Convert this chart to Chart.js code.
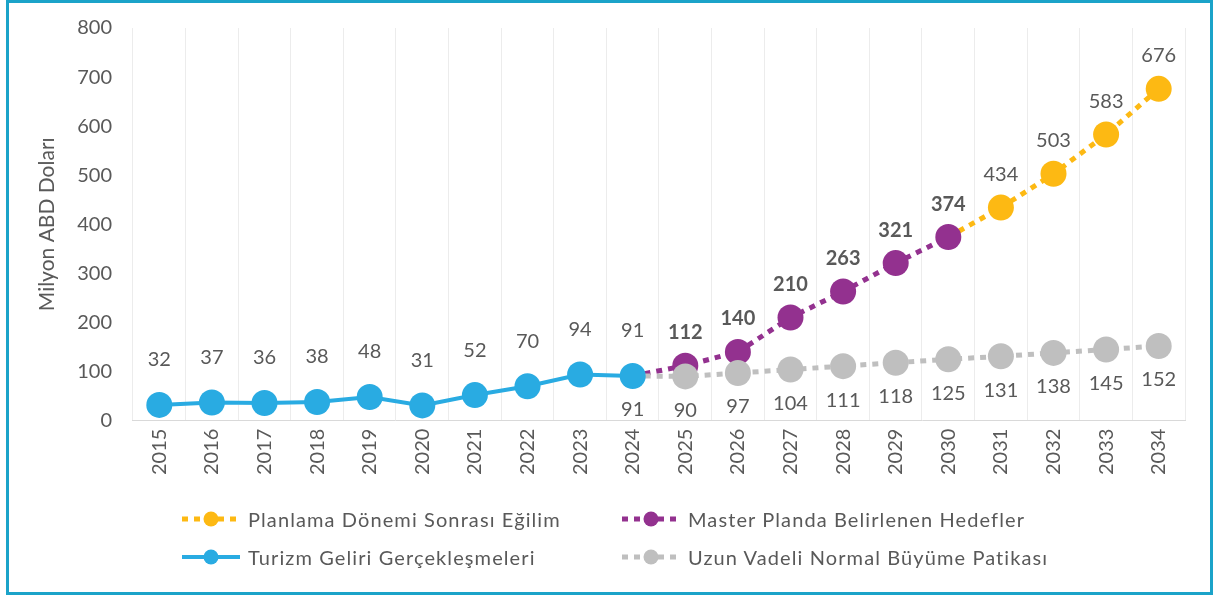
<!DOCTYPE html>
<html>
<head>
<meta charset="utf-8">
<script src="https://cdn.jsdelivr.net/npm/chart.js@4"></script>
<style>
  html, body { margin: 0; padding: 0; background: #fff; }
  body { width: 1216px; height: 595px; position: relative; overflow: hidden; font-family: Lato, "Noto Sans", sans-serif; }
  .frame { position: absolute; left: 6px; top: 0px; width: 1201px; height: 589px; border: 3px solid #1ba3c9; }
  .plot { position: absolute; left: 0; top: 0; width: 1201px; height: 480px; }
  .legend { position: absolute; left: 0; top: 0; width: 1201px; height: 589px; pointer-events: none; }
  .legend-item { position: absolute; display: flex; align-items: center; color: #595959; font-size: 20px; letter-spacing: 1.1px; white-space: nowrap; }
  .legend-item canvas { margin-right: 6px; }
</style>
</head>
<body>
<div class="frame">
  <div class="plot"><canvas id="chart"></canvas></div>
  <div class="legend" id="legend"></div>
</div>
<script>
const years = ['2015','2016','2017','2018','2019','2020','2021','2022','2023','2024',
               '2025','2026','2027','2028','2029','2030','2031','2032','2033','2034'];

const realized   = [32, 37, 36, 38, 48, 31, 52, 70, 94, 91, null, null, null, null, null, null, null, null, null, null];
const masterPlan = [null, null, null, null, null, null, null, null, null, 91, 112, 140, 210, 263, 321, 374, null, null, null, null];
const postPlan   = [null, null, null, null, null, null, null, null, null, null, null, null, null, null, null, 374, 434, 503, 583, 676];
const normalPath = [null, null, null, null, null, null, null, null, null, 91, 90, 97, 104, 111, 118, 125, 131, 138, 145, 152];

const yTicks = [0, 100, 200, 300, 400, 500, 600, 700, 800];

const BLUE = '#29abe2';
const PURPLE = '#93318f';
const ORANGE = '#fdb913';
const GRAY = '#bfbfbf';
const TEXT = '#595959';
const FONT = 'Lato, "Noto Sans", sans-serif';

// markers only from a given index on (join points sit under the previous series)
function radii(arr, from) {
  return arr.map((v, i) => (v == null || i < from) ? 0 : 13);
}

const datasets = [
  { label: 'Turizm Geliri Gerçekleşmeleri', data: realized, color: BLUE,
    width: 4, pointRadius: radii(realized, 0), dash: [], labelFrom: 0, labelOffset: -45, bold: false },
  { label: 'Uzun Vadeli Normal Büyüme Patikası', data: normalPath, color: GRAY,
    width: 5, pointRadius: radii(normalPath, 10), dash: [6, 6], labelFrom: 9, labelOffset: 34, bold: false },
  { label: 'Master Planda Belirlenen Hedefler', data: masterPlan, color: PURPLE,
    width: 5, pointRadius: radii(masterPlan, 10), dash: [6, 6], labelFrom: 10, labelOffset: -33, bold: true },
  { label: 'Planlama Dönemi Sonrası Eğilim', data: postPlan, color: ORANGE,
    width: 5, pointRadius: radii(postPlan, 16), dash: [6, 6], labelFrom: 16, labelOffset: -33, bold: false }
];

const valueLabels = {
  id: 'valueLabels',
  afterDatasetsDraw(chart) {
    const ctx = chart.ctx;
    ctx.save();
    ctx.textAlign = 'center';
    ctx.textBaseline = 'middle';
    ctx.fillStyle = TEXT;
    chart.data.datasets.forEach((ds, di) => {
      const meta = chart.getDatasetMeta(di);
      ctx.font = (ds.bold ? 'bold ' : '') + '20px ' + FONT;
      ds.data.forEach((v, i) => {
        if (v == null || i < ds.labelFrom) return;
        const pt = meta.data[i];
        ctx.fillText(String(v), pt.x, pt.y + ds.labelOffset);
      });
    });
    ctx.restore();
  }
};

new Chart(document.getElementById('chart'), {
  type: 'line',
  data: {
    labels: years,
    datasets: datasets.map(d => ({
      label: d.label,
      data: d.data,
      borderColor: d.color,
      backgroundColor: d.color,
      borderWidth: d.width,
      borderDash: d.dash,
      borderCapStyle: 'butt',
      pointRadius: d.pointRadius,
      pointHoverRadius: d.pointRadius,
      pointBorderWidth: 0,
      tension: 0,
      spanGaps: false,
      fill: false,
      labelFrom: d.labelFrom,
      labelOffset: d.labelOffset,
      bold: d.bold
    }))
  },
  options: {
    responsive: true,
    maintainAspectRatio: false,
    animation: false,
    layout: { padding: { left: 26, right: 25, top: 6, bottom: 0 } },
    scales: {
      x: {
        offset: true,
        grid: { offset: true, color: '#ececec', drawTicks: false },
        border: { color: '#d9d9d9' },
        ticks: { color: TEXT, font: { family: FONT, size: 20 }, maxRotation: 90, minRotation: 90, padding: 8 }
      },
      y: {
        min: 0,
        max: 800,
        afterBuildTicks: axis => { axis.ticks = yTicks.map(v => ({ value: v })); },
        grid: { display: false },
        border: { display: false },
        ticks: { color: TEXT, font: { family: FONT, size: 20 }, padding: 13 },
        title: { display: true, text: 'Milyon ABD Doları', color: TEXT, font: { family: FONT, size: 21 }, padding: { top: 0, bottom: 4 } }
      }
    },
    plugins: {
      legend: { display: false },
      tooltip: { enabled: false }
    }
  },
  plugins: [valueLabels]
});

// two-column legend below the chart
const legendLayout = [
  { ds: 3, left: 171, top: 502 },
  { ds: 2, left: 611, top: 502 },
  { ds: 0, left: 171, top: 540 },
  { ds: 1, left: 611, top: 540 }
];
const legendEl = document.getElementById('legend');
legendLayout.forEach(item => {
  const d = datasets[item.ds];
  const div = document.createElement('div');
  div.className = 'legend-item';
  div.style.left = item.left + 'px';
  div.style.top = item.top + 'px';
  const c = document.createElement('canvas');
  c.width = 62; c.height = 28;
  const g = c.getContext('2d');
  g.strokeStyle = d.color;
  g.lineWidth = d.width;
  g.setLineDash(d.dash);
  g.beginPath(); g.moveTo(2, 14); g.lineTo(60, 14); g.stroke();
  g.fillStyle = d.color;
  g.beginPath(); g.arc(31, 14, 7.5, 0, Math.PI * 2); g.fill();
  div.appendChild(c);
  const span = document.createElement('span');
  span.textContent = d.label;
  div.appendChild(span);
  legendEl.appendChild(div);
});
</script>
</body>
</html>
